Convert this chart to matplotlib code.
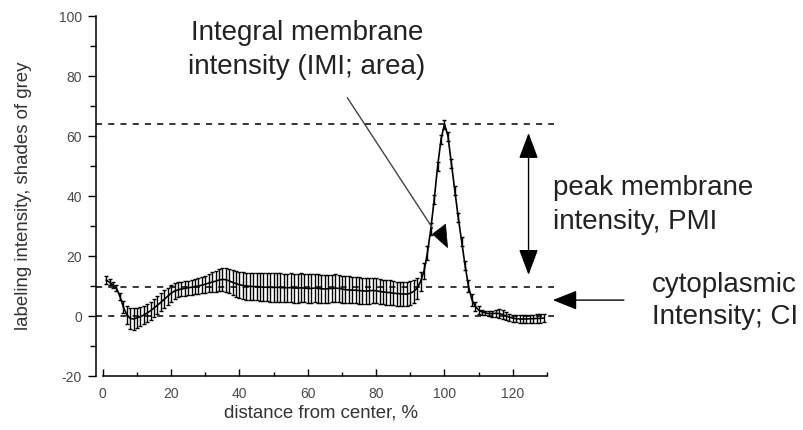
import matplotlib
matplotlib.use("Agg")
import matplotlib.pyplot as plt
import numpy as np
from matplotlib.patches import Polygon

plt.rcParams['font.family'] = ['Liberation Sans', 'DejaVu Sans']
plt.rcParams['axes.unicode_minus'] = False

# distance from center, %
distance = np.arange(1, 130)

# mean labeling intensity (shades of grey)
intensity = [
    12.0, 11.2, 10.3, 9.2, 6.5, 3.0, 0.5, -0.8, -1.0, -0.6,
    -0.2, 0.3, 1.0, 1.8, 2.7, 3.6, 4.6, 5.6, 6.6, 7.6,
    8.3, 8.7, 9.0, 9.2, 9.4, 9.6, 9.8, 10.0, 10.3, 10.6,
    11.0, 11.3, 11.6, 12.0, 12.2, 12.1, 11.7, 11.2, 10.8, 10.4,
    10.2, 10.0, 9.9, 9.8, 9.8, 9.7, 9.6, 9.6, 9.5, 9.5,
    9.6, 9.5, 9.4, 9.4, 9.5, 9.3, 9.3, 9.4, 9.3, 9.2,
    9.2, 9.3, 9.2, 9.1, 9.0, 9.1, 9.2, 9.3, 9.2, 9.0,
    8.8, 8.7, 8.6, 8.6, 8.5, 8.4, 8.3, 8.4, 8.5, 8.4,
    8.2, 8.0, 7.9, 7.8, 7.6, 7.5, 7.4, 7.3, 7.3, 7.6,
    8.2, 9.3, 11.5, 15.0, 21.0, 29.0, 39.0, 50.0, 59.0, 64.0,
    60.0, 51.0, 42.0, 33.0, 25.0, 17.0, 10.0, 5.5, 3.2, 2.0,
    1.3, 1.0, 0.8, 0.8, 0.9, 0.8, 0.5, 0.0, -0.4, -0.7,
    -0.9, -1.0, -1.0, -1.0, -0.9, -0.9, -0.8, -0.8, -0.7,
]

# error (half-length of error bars)
error = [
    1.2, 1.0, 1.0, 1.0, 1.2, 2.0, 3.0, 3.5, 3.6, 3.4,
    3.2, 3.0, 3.0, 3.0, 3.0, 3.0, 3.0, 3.0, 2.9, 2.8,
    2.6, 2.5, 2.4, 2.4, 2.4, 2.5, 2.5, 2.6, 2.7, 2.9,
    3.1, 3.3, 3.5, 3.7, 3.9, 4.0, 4.1, 4.2, 4.3, 4.4,
    4.5, 4.5, 4.6, 4.6, 4.6, 4.7, 4.7, 4.7, 4.7, 4.8,
    4.8, 4.8, 4.7, 4.7, 4.8, 4.8, 4.8, 4.8, 4.7, 4.7,
    4.7, 4.7, 4.7, 4.6, 4.6, 4.6, 4.6, 4.6, 4.5, 4.5,
    4.5, 4.5, 4.4, 4.4, 4.4, 4.3, 4.3, 4.3, 4.2, 4.2,
    4.2, 4.1, 4.1, 4.1, 4.0, 4.0, 4.0, 4.0, 4.0, 4.0,
    3.8, 3.5, 3.2, 2.8, 2.3, 2.0, 1.5, 1.5, 1.5, 1.5,
    1.5, 1.5, 1.5, 1.5, 1.5, 1.5, 2.0, 2.0, 1.5, 1.2,
    0.8, 0.8, 0.8, 1.0, 1.2, 1.4, 1.4, 1.3, 1.2, 1.2,
    1.2, 1.2, 1.2, 1.4, 1.4, 1.4, 1.4, 1.4, 1.4,
]

# reference levels: peak, cytoplasmic, zero
ref_levels = [64.0, 9.6, 0.0]

fig = plt.figure(figsize=(8.04, 4.30), dpi=100)
ax = fig.add_axes([96 / 804, 1 - 376 / 430, (547 - 96) / 804, 360 / 430])

ax.set_xlim(-2, 130)
ax.set_ylim(-20, 100)

for lvl in ref_levels:
    ax.plot([-2, 132], [lvl, lvl], color='black', lw=1.1,
            dashes=(4, 4), clip_on=False, zorder=1)

ax.errorbar(distance, intensity, yerr=error, color='black', lw=1.2,
            elinewidth=1.0, capsize=1.5, capthick=1.0, zorder=3)

ax.spines['top'].set_visible(False)
ax.spines['right'].set_visible(False)
ax.spines['left'].set_linewidth(1.1)
ax.spines['bottom'].set_linewidth(1.1)
ax.spines['bottom'].set_bounds(0, 130)

ax.set_yticks([-20, 0, 20, 40, 60, 80, 100])
ax.set_yticks(np.arange(-10, 100, 20), minor=True)
ax.set_xticks([0, 20, 40, 60, 80, 100, 120])
ax.set_xticks([10, 30, 50, 70, 90, 110, 130], minor=True)

ax.tick_params(axis='y', which='major', direction='out', length=6, width=1.0,
               pad=4, labelsize=10, labelcolor='#4a4a4a')
ax.tick_params(axis='y', which='minor', direction='out', length=4, width=1.0)
ax.tick_params(axis='x', which='major', direction='in', length=5, width=1.0,
               pad=8, labelsize=10, labelcolor='#4a4a4a')
ax.tick_params(axis='x', which='minor', direction='in', length=3, width=1.0)

ax.set_xlabel('distance from center, %', fontsize=13.4, color='#333333', va='center')
ax.set_ylabel('labeling intensity, shades of grey', fontsize=13.4, color='#333333', va='center')
ax.xaxis.set_label_coords(0.5, -0.103)
ax.yaxis.set_label_coords(-0.16, 0.5)

# Annotation texts
fig.text(307 / 804, 1 - 49.5 / 430, 'Integral membrane\nintensity (IMI; area)',
         fontsize=20, color='#222222', ha='center', va='center',
         multialignment='center', linespacing=1.4)
fig.text(553 / 804, 1 - 205 / 430, 'peak membrane\nintensity, PMI',
         fontsize=20, color='#222222', ha='left', va='center', linespacing=1.37)
fig.text(652 / 804, 1 - 301 / 430, 'cytoplasmic\nIntensity; CI',
         fontsize=20, color='#222222', ha='left', va='center', linespacing=1.3)

# IMI pointer line + head
ax.plot([71.6, 96.5], [72.7, 29.3], color='#444444', lw=1.0, clip_on=False, zorder=4)
ax.add_patch(Polygon([[96.5, 27.3], [100.3, 30.6], [100.9, 22.8]], closed=True,
                     facecolor='black', edgecolor='black', lw=0.5, zorder=5))

# PMI double arrow
ax.annotate('', xy=(124.6, 61.0), xytext=(124.6, 13.7),
            arrowprops=dict(arrowstyle='<|-|>,head_length=1.6,head_width=0.6',
                            mutation_scale=10, color='black', lw=1.0,
                            shrinkA=0, shrinkB=0), annotation_clip=False)

# CI arrow
ax.annotate('', xy=(131.7, 5.3), xytext=(152.5, 5.3),
            arrowprops=dict(arrowstyle='-|>,head_length=1.5,head_width=0.6',
                            mutation_scale=10, color='black', lw=1.0,
                            shrinkA=0, shrinkB=0), annotation_clip=False)

fig.savefig('out.png', dpi=100)
